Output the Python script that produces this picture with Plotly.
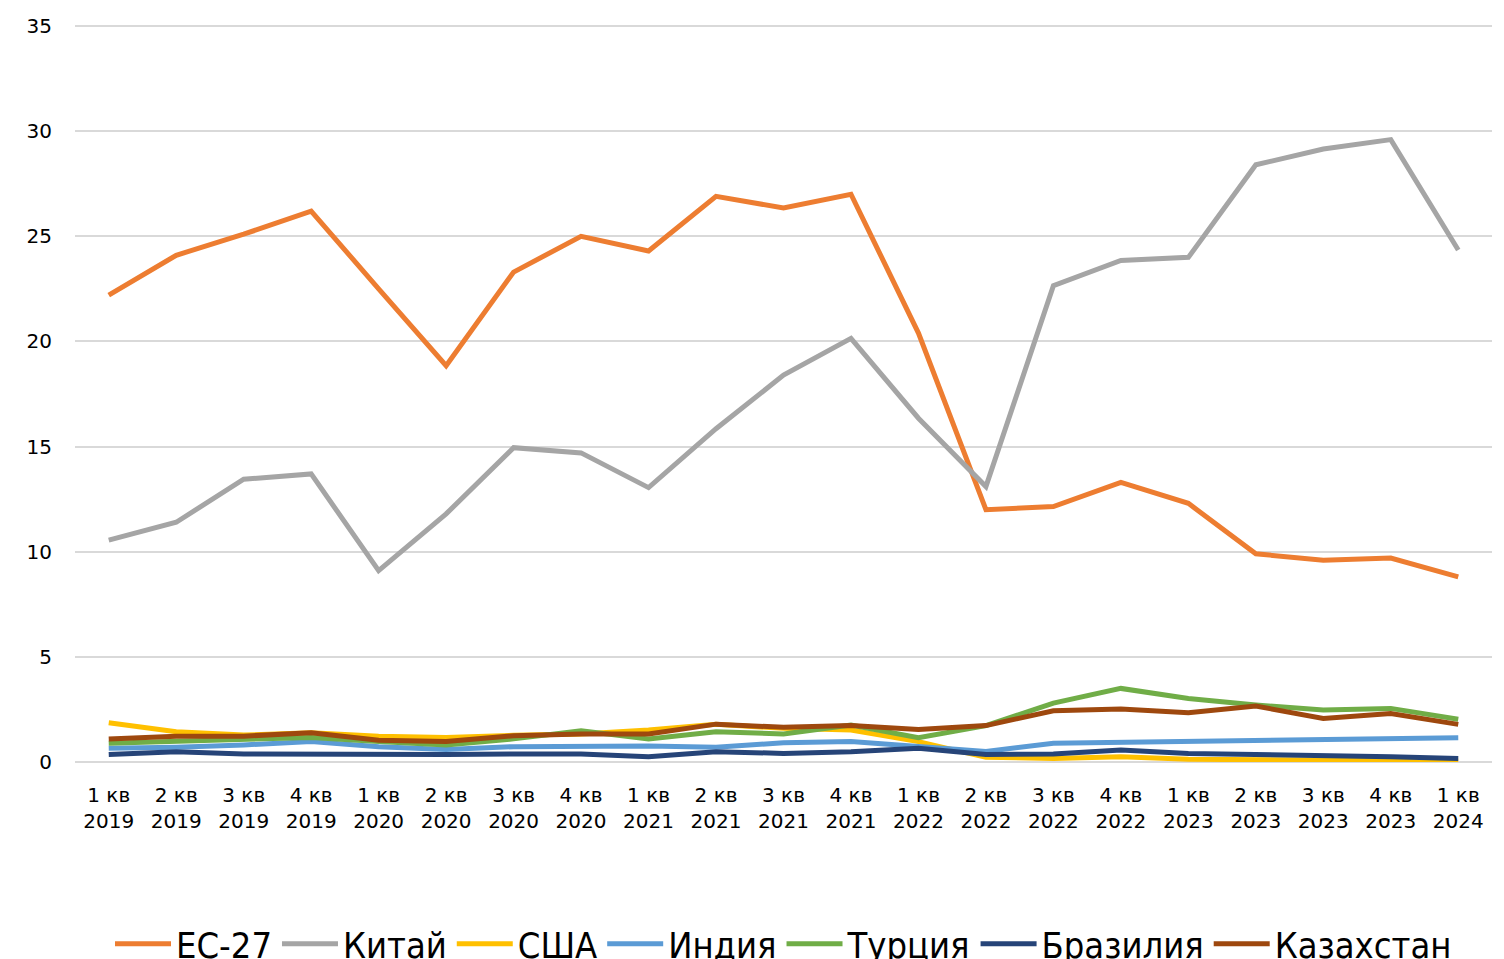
import plotly.graph_objects as go

quarters = ["1 кв", "2 кв", "3 кв", "4 кв"]
categories = []
for yr in ["2019", "2020", "2021", "2022", "2023"]:
    for q in quarters:
        categories.append(f"{q}<br>{yr}")
categories.append("1 кв<br>2024")

eu27 = [22.2, 24.1, 25.1, 26.2, 22.5, 18.85, 23.3, 25.0, 24.3, 26.9, 26.35, 27.0,
        20.4, 12.0, 12.15, 13.3, 12.3, 9.9, 9.6, 9.7, 8.8]
china = [10.55, 11.4, 13.45, 13.7, 9.1, 11.8, 14.95, 14.7, 13.05, 15.85, 18.4, 20.15,
         16.35, 13.1, 22.65, 23.85, 24.0, 28.4, 29.15, 29.6, 24.35]
usa = [1.87, 1.44, 1.28, 1.39, 1.23, 1.17, 1.27, 1.33, 1.52, 1.8, 1.6, 1.52,
       0.97, 0.22, 0.17, 0.25, 0.13, 0.1, 0.06, 0.06, 0.05]
india = [0.65, 0.70, 0.81, 0.97, 0.73, 0.6, 0.73, 0.73, 0.76, 0.7, 0.92, 0.97,
         0.76, 0.5, 0.89, 0.94, 0.97, 1.01, 1.07, 1.14, 1.15]
turkey = [0.89, 0.97, 1.04, 1.17, 0.97, 0.81, 1.1, 1.49, 1.09, 1.44, 1.33, 1.76,
          1.15, 1.73, 2.8, 3.5, 3.02, 2.71, 2.47, 2.55, 2.03]
brazil = [0.36, 0.49, 0.38, 0.36, 0.36, 0.36, 0.38, 0.38, 0.25, 0.49, 0.41, 0.49,
          0.65, 0.36, 0.38, 0.57, 0.41, 0.36, 0.33, 0.25, 0.17]
kazakhstan = [1.09, 1.23, 1.23, 1.39, 1.04, 0.97, 1.25, 1.33, 1.33, 1.80, 1.65, 1.73,
              1.55, 1.73, 2.44, 2.52, 2.34, 2.66, 2.07, 2.31, 1.79]

series = [
    ("ЕС-27", eu27, "#ED7D31"),
    ("Китай", china, "#A5A5A5"),
    ("США", usa, "#FFC000"),
    ("Индия", india, "#5B9BD5"),
    ("Турция", turkey, "#70AD47"),
    ("Бразилия", brazil, "#264478"),
    ("Казахстан", kazakhstan, "#9E480E"),
]

fig = go.Figure()
for name, vals, color in series:
    fig.add_trace(go.Scatter(
        x=categories, y=vals, name=name, mode="lines",
        line=dict(color=color, width=5, shape="linear"),
    ))

font_main = "Tahoma, DejaVu Sans, sans-serif"
fig.update_layout(
    width=1504, height=959,
    paper_bgcolor="white", plot_bgcolor="white",
    margin=dict(l=67, r=20, t=17, b=205, autoexpand=False),
    font=dict(family=font_main, size=20, color="#000000"),
    showlegend=True,
    legend=dict(
        orientation="h", x=0.5, xanchor="center", y=-0.206, yanchor="top",
        font=dict(family="DejaVu Sans Condensed, DejaVu Sans, sans-serif", size=36, color="#000000"),
        itemwidth=56, tracegroupgap=0,
    ),
    xaxis=dict(
        type="category", showgrid=False, showline=False, zeroline=False,
        ticks="", tickfont=dict(size=20), ticklabelstandoff=19,
        range=[-0.5, len(categories) - 0.5], automargin=False,
    ),
    yaxis=dict(
        range=[0, 35.05], tickvals=[0, 5, 10, 15, 20, 25, 30, 35],
        showgrid=True, gridcolor="#D9D9D9", gridwidth=1.5,
        zeroline=True, zerolinecolor="#D9D9D9", zerolinewidth=2,
        showline=False, ticks="", tickfont=dict(size=20), ticklabelstandoff=22,
        automargin=False,
    ),
)

fig.write_html("out.html")
